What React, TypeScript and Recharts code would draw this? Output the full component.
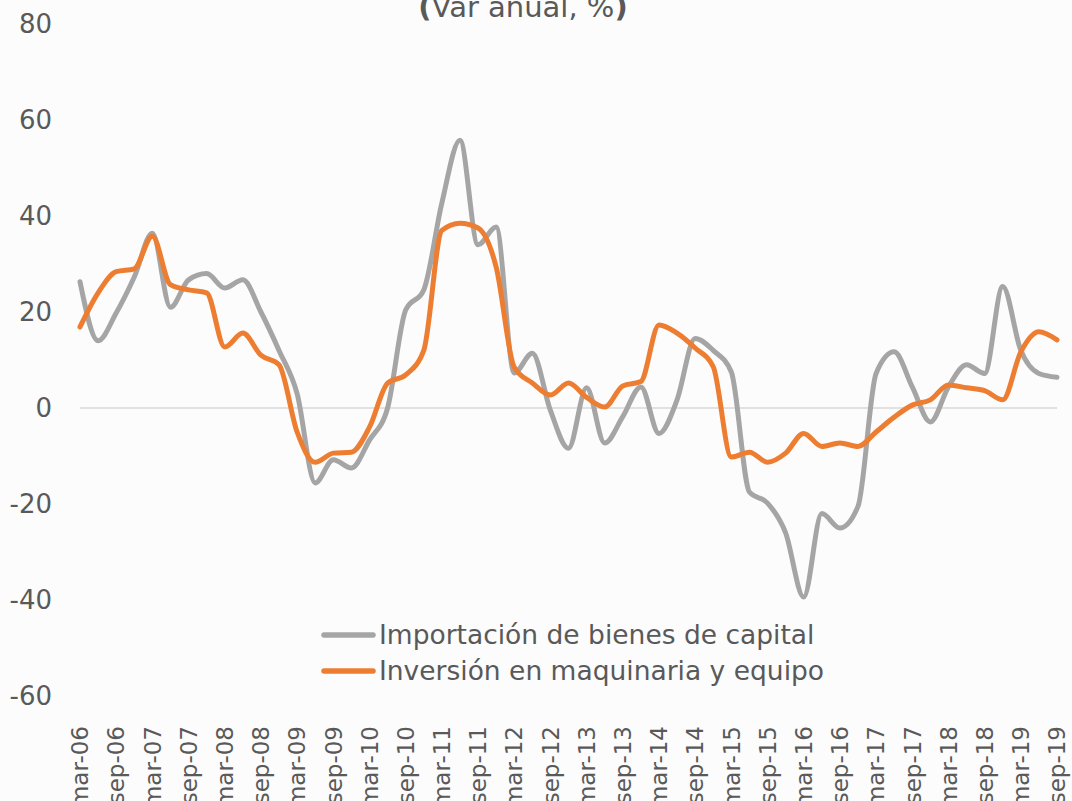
import React from "react";
import { LineChart, Line, XAxis, YAxis, CartesianGrid, Legend } from "recharts";

// Quarterly labels, mar-06 .. sep-19
const QUARTERS = [
  "mar-06", "jun-06", "sep-06", "dic-06",
  "mar-07", "jun-07", "sep-07", "dic-07",
  "mar-08", "jun-08", "sep-08", "dic-08",
  "mar-09", "jun-09", "sep-09", "dic-09",
  "mar-10", "jun-10", "sep-10", "dic-10",
  "mar-11", "jun-11", "sep-11", "dic-11",
  "mar-12", "jun-12", "sep-12", "dic-12",
  "mar-13", "jun-13", "sep-13", "dic-13",
  "mar-14", "jun-14", "sep-14", "dic-14",
  "mar-15", "jun-15", "sep-15", "dic-15",
  "mar-16", "jun-16", "sep-16", "dic-16",
  "mar-17", "jun-17", "sep-17", "dic-17",
  "mar-18", "jun-18", "sep-18", "dic-18",
  "mar-19", "jun-19", "sep-19",
];

// Importación de bienes de capital (var. anual, %)
const IMPORTACION = [
  26.3, 14, 19.8, 27.3, 36.4, 21, 26.7, 28, 25, 26.7, 20, 12,
  3, -15.6, -10.8, -12.5, -6.7, 0, 20.4, 24.6, 42.7, 55.8, 34, 37.7,
  7.3, 11.4, -0.5, -8.4, 4.2, -7.3, -1.8, 4.4, -5.3, 1.7, 14.5, 12,
  7.5, -17.5, -19.8, -26, -39.4, -22, -25, -20.5, 7.2, 11.7, 4.4, -2.9,
  4.4, 9, 7.2, 25.3, 12, 7.2, 6.4,
];

// Inversión en maquinaria y equipo (var. anual, %)
const INVERSION = [
  16.9, 24, 28.4, 29, 35.8, 25.7, 24.6, 24, 12.7, 15.6, 11, 9,
  -5, -11.3, -9.4, -9.2, -4, 5.2, 6.9, 12, 37, 38.5, 37.5, 29.4,
  8.5, 5.2, 2.7, 5.2, 2.2, 0.2, 4.6, 5.5, 17.3, 15.6, 12.5, 8.6,
  -10.2, -9.2, -11.3, -9.4, -5.3, -8, -7.3, -8, -5, -1.9, 0.6, 1.7,
  4.8, 4.2, 3.6, 1.7, 11.7, 15.9, 14.2,
];

const Y_TICKS = [-60, -40, -20, 0, 20, 40, 60, 80];

const COLORS = {
  importacion: "#A5A5A5",
  inversion: "#ED7D31",
  text: "#595959",
  grid: "#D9D9D9",
  bg: "#FCFCFC",
};

const FONT = "'DejaVu Sans', sans-serif";

const data = QUARTERS.map((q, i) => ({
  label: q,
  importacion: IMPORTACION[i],
  inversion: INVERSION[i],
}));

function RotatedTick({ x, y, payload }: any) {
  return (
    <text
      x={x}
      y={y}
      transform={`rotate(-90, ${x}, ${y})`}
      textAnchor="end"
      dy="0.36em"
      fontFamily={FONT}
      fontSize={23}
      fill={COLORS.text}
    >
      {payload.value}
    </text>
  );
}

function LegendContent() {
  const rows = [
    { name: "Importación de bienes de capital", color: COLORS.importacion },
    { name: "Inversión en maquinaria y equipo", color: COLORS.inversion },
  ];
  return (
    <svg width={540} height={80}>
      {rows.map((r, i) => (
        <g key={r.name}>
          <line
            x1={6}
            x2={55}
            y1={25 + i * 36}
            y2={25 + i * 36}
            stroke={r.color}
            strokeWidth={5.5}
            strokeLinecap="round"
          />
          <text
            x={61}
            y={34 + i * 36}
            fontFamily={FONT}
            fontSize={26.5}
            fill={COLORS.text}
          >
            {r.name}
          </text>
        </g>
      ))}
    </svg>
  );
}

export default function App() {
  return (
    <div
      style={{
        position: "absolute",
        left: 0,
        top: 0,
        width: 1072,
        height: 801,
        background: COLORS.bg,
        overflow: "hidden",
      }}
    >
      <svg
        width={1072}
        height={40}
        style={{ position: "absolute", left: 0, top: 0, pointerEvents: "none" }}
      >
        <text
          x={523}
          y={17}
          textAnchor="middle"
          fontFamily={FONT}
          fontSize={29}
          fill={COLORS.text}
        >
          <tspan fontWeight="bold">(</tspan>
          Var anual, %
          <tspan fontWeight="bold">)</tspan>
        </text>
      </svg>
      <LineChart
        width={1072}
        height={801}
        data={data}
        margin={{ top: 24, right: 15, bottom: 0, left: 0 }}
      >
        <CartesianGrid
          vertical={false}
          horizontalValues={[0]}
          stroke={COLORS.grid}
          strokeWidth={1.5}
        />
        <XAxis
          dataKey="label"
          interval={1}
          height={105}
          axisLine={false}
          tickLine={false}
          tickSize={6}
          tickMargin={24}
          tick={<RotatedTick />}
        />
        <YAxis
          width={80}
          domain={[-60, 80]}
          ticks={Y_TICKS}
          axisLine={false}
          tickLine={false}
          tickSize={6}
          tickMargin={22}
          tick={{ fontFamily: FONT, fontSize: 26, fill: COLORS.text }}
        />
        <Legend
          layout="horizontal"
          verticalAlign="middle"
          align="center"
          content={<LegendContent />}
          wrapperStyle={{ left: 318, top: 610, width: 540, height: 80 }}
        />
        <Line
          type="monotone"
          dataKey="importacion"
          name="Importación de bienes de capital"
          stroke={COLORS.importacion}
          strokeWidth={5}
          strokeLinecap="round"
          dot={false}
          activeDot={false}
          isAnimationActive={false}
        />
        <Line
          type="monotone"
          dataKey="inversion"
          name="Inversión en maquinaria y equipo"
          stroke={COLORS.inversion}
          strokeWidth={5}
          strokeLinecap="round"
          dot={false}
          activeDot={false}
          isAnimationActive={false}
        />
      </LineChart>
    </div>
  );
}
